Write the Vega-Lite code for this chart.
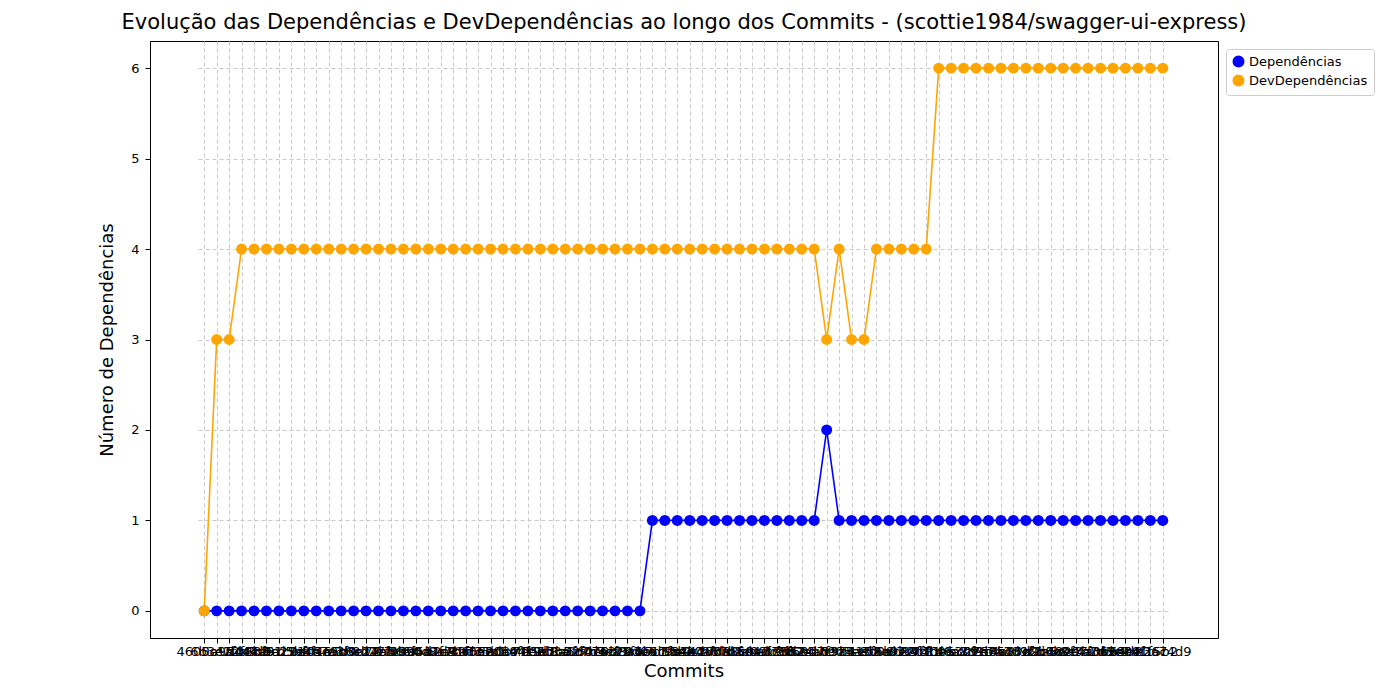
{
  "$schema": "https://vega.github.io/schema/vega-lite/v6.json",
  "width": 1068,
  "height": 597,
  "padding": {"left": 98, "top": 12, "right": 5, "bottom": 5},
  "title": {"text": "Evolução das Dependências e DevDependências ao longo dos Commits - (scottie1984/swagger-ui-express)", "fontSize": 21, "font": "DejaVu Sans", "fontWeight": "normal", "anchor": "middle", "offset": 8},
  "data": {"values": [
    {"i":0,"c":"4605c1a","D":0,"V":0},{"i":1,"c":"6b3e2f0","D":0,"V":3},{"i":2,"c":"0a9d4c7","D":0,"V":3},{"i":3,"c":"e12f8b3","D":0,"V":4},
    {"i":4,"c":"7c44a91","D":0,"V":4},{"i":5,"c":"b8d0e25","D":0,"V":4},{"i":6,"c":"3f61c0d","D":0,"V":4},{"i":7,"c":"9a27e4b","D":0,"V":4},
    {"i":8,"c":"d5b8f16","D":0,"V":4},{"i":9,"c":"21ce7a3","D":0,"V":4},{"i":10,"c":"f04a5d9","D":0,"V":4},{"i":11,"c":"5e9b3c2","D":0,"V":4},
    {"i":12,"c":"a3f0d78","D":0,"V":4},{"i":13,"c":"c6e14b5","D":0,"V":4},{"i":14,"c":"8d27f09","D":0,"V":4},{"i":15,"c":"12ab6e4","D":0,"V":4},
    {"i":16,"c":"e7c3d51","D":0,"V":4},{"i":17,"c":"4b90a2f","D":0,"V":4},{"i":18,"c":"6f5d1c8","D":0,"V":4},{"i":19,"c":"0c8e7b6","D":0,"V":4},
    {"i":20,"c":"b2a49d3","D":0,"V":4},{"i":21,"c":"d91f06e","D":0,"V":4},{"i":22,"c":"3a7c5b1","D":0,"V":4},{"i":23,"c":"f6e20a9","D":0,"V":4},
    {"i":24,"c":"58d3c4f","D":0,"V":4},{"i":25,"c":"a0b71e2","D":0,"V":4},{"i":26,"c":"c4f95d7","D":0,"V":4},{"i":27,"c":"7e06b3a","D":0,"V":4},
    {"i":28,"c":"19d8a6c","D":0,"V":4},{"i":29,"c":"e3b52f0","D":0,"V":4},{"i":30,"c":"8a1c7d4","D":0,"V":4},{"i":31,"c":"2f64e9b","D":0,"V":4},
    {"i":32,"c":"d07a3c5","D":0,"V":4},{"i":33,"c":"b5e81f6","D":0,"V":4},{"i":34,"c":"6c29d0a","D":0,"V":4},{"i":35,"c":"f8a4b17","D":0,"V":4},
    {"i":36,"c":"03e6c9d","D":1,"V":4},{"i":37,"c":"a7d15e2","D":1,"V":4},{"i":38,"c":"c1f83b4","D":1,"V":4},{"i":39,"c":"5b4e0a6","D":1,"V":4},
    {"i":40,"c":"e9c27d8","D":1,"V":4},{"i":41,"c":"4d60b1f","D":1,"V":4},{"i":42,"c":"9f3a8c0","D":1,"V":4},{"i":43,"c":"17b5e4d","D":1,"V":4},
    {"i":44,"c":"d2e09f7","D":1,"V":4},{"i":45,"c":"60a7c3b","D":1,"V":4},{"i":46,"c":"ba19d52","D":1,"V":4},{"i":47,"c":"3c8f6e1","D":1,"V":4},
    {"i":48,"c":"f5d24a0","D":1,"V":4},{"i":49,"c":"82e1b9c","D":1,"V":4},{"i":50,"c":"0d7f3a5","D":2,"V":3},{"i":51,"c":"a6c05e8","D":1,"V":4},
    {"i":52,"c":"c9b41d2","D":1,"V":3},{"i":53,"c":"74a3f6b","D":1,"V":3},{"i":54,"c":"1e58c07","D":1,"V":4},{"i":55,"c":"eb06d94","D":1,"V":4},
    {"i":56,"c":"5a9e2c3","D":1,"V":4},{"i":57,"c":"d3c7f81","D":1,"V":4},{"i":58,"c":"28f4b0e","D":1,"V":4},{"i":59,"c":"9b1d6a7","D":1,"V":6},
    {"i":60,"c":"f0e53c9","D":1,"V":6},{"i":61,"c":"46a8d1b","D":1,"V":6},{"i":62,"c":"bc27e05","D":1,"V":6},{"i":63,"c":"0f9c4a8","D":1,"V":6},
    {"i":64,"c":"e58b13d","D":1,"V":6},{"i":65,"c":"7a3d9f2","D":1,"V":6},{"i":66,"c":"c06e2b7","D":1,"V":6},{"i":67,"c":"31f7a5c","D":1,"V":6},
    {"i":68,"c":"a9c48e0","D":1,"V":6},{"i":69,"c":"d6b0f3a","D":1,"V":6},{"i":70,"c":"5c2e71d","D":1,"V":6},{"i":71,"c":"8e4a0b6","D":1,"V":6},
    {"i":72,"c":"1b7d5c9","D":1,"V":6},{"i":73,"c":"f3a96e4","D":1,"V":6},{"i":74,"c":"62e0c1f","D":1,"V":6},{"i":75,"c":"b4d83a7","D":1,"V":6},
    {"i":76,"c":"09f15b2","D":1,"V":6},{"i":77,"c":"e26c4d9","D":1,"V":6}
  ]},
  "transform": [{"fold": ["D", "V"], "as": ["s", "v"]}],
  "encoding": {
    "x": {"field": "c", "type": "ordinal", "sort": {"field": "i"}, "title": "Commits",
      "scale": {"type": "point", "range": [48, 1019]},
      "axis": {"labelAngle": 0, "labelOverlap": false, "labelFontSize": 13, "labelColor": "#000", "titleFontSize": 18, "titleFontWeight": "normal", "grid": true, "gridDash": [4, 3], "gridColor": "#c8c8c8", "tickColor": "#000", "domainColor": "#000"}},
    "y": {"field": "v", "type": "quantitative", "title": "Número de Dependências",
      "scale": {"domain": [-0.3, 6.3], "nice": false, "zero": false},
      "axis": {"values": [0, 1, 2, 3, 4, 5, 6], "labelFontSize": 13, "labelColor": "#000", "labelPadding": 6, "titleFontSize": 18, "titleFontWeight": "normal", "titlePadding": 14, "gridDash": [4, 3], "gridColor": "#c8c8c8", "tickColor": "#000", "domainColor": "#000"}},
    "color": {"field": "s", "type": "nominal",
      "scale": {"domain": ["D", "V"], "range": ["#0000ff", "#ffa500"]},
      "legend": {"orient": "none", "legendX": 1076, "legendY": 8, "title": null, "labelExpr": "datum.value == 'D' ? 'Dependências' : 'DevDependências'", "labelFontSize": 13, "symbolType": "circle", "symbolSize": 110, "strokeColor": "#ccc", "padding": 6, "fillColor": "white", "cornerRadius": 3}},
    "order": {"field": "i"}
  },
  "layer": [
    {"mark": {"type": "line", "strokeWidth": 1.6}},
    {"mark": {"type": "circle", "size": 120, "opacity": 1}}
  ],
  "config": {"font": "DejaVu Sans", "view": {"stroke": "#000"}}
}
